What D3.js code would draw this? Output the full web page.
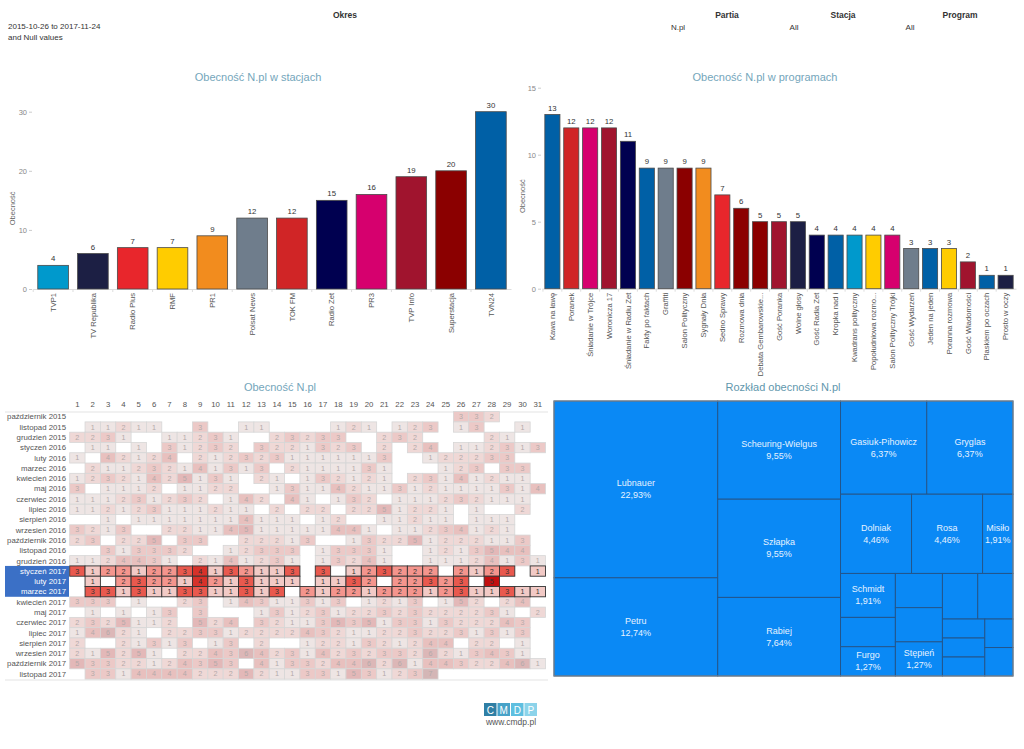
<!DOCTYPE html>
<html><head><meta charset="utf-8">
<script src="https://cdn.jsdelivr.net/npm/d3@7"></script>
<style>body{margin:0;background:#fff}svg{display:block}</style>
</head><body><svg id="c" width="1024" height="749"></svg>
<script>
// ---------- DATA ----------
const stations = ["TVP1","TV Republika","Radio Plus","RMF","PR1","Polsat News","TOK FM","Radio Zet","PR3","TVP Info","Superstacja","TVN24"];
const stationValues = [4,6,7,7,9,12,12,15,16,19,20,30];
const stationColors = ["#0099cc","#1c1f44","#e8262c","#ffcc00","#f28c1e","#6f7d8c","#d02526","#000050","#d6006e","#a0142e","#8b0000","#0060a6"];
const stationTicks = [0,10,20,30];

const programs = ["Kawa na ławę","Poranek","Śniadanie w Trójce","Woronicza 17","Śniadanie w Radiu Zet","Fakty po faktach","Graffiti","Salon Polityczny","Sygnały Dnia","Sedno Sprawy","Rozmowa dnia","Debata Gembarowskie...","Gość Poranka","Wolne głosy","Gość Radia Zet","Kropka nad i","Kwadrans polityczny","Popołudniowa rozmo...","Salon Polityczny Trójki","Gość Wydarzeń","Jeden na jeden","Poranna rozmowa","Gość Wiadomości","Plaskiem po oczach","Prosto w oczy"];
const programValues = [13,12,12,12,11,9,9,9,9,7,6,5,5,5,4,4,4,4,4,3,3,3,2,1,1];
const programColors = ["#0060a6","#d02526","#d6006e","#a0142e","#000050","#0060a6","#6f7d8c","#8b0000","#f28c1e","#e8262c","#8b0000","#8b0000","#a0142e","#1c1f44","#000050","#0060a6","#0099cc","#ffcc00","#d6006e","#6f7d8c","#0060a6","#ffcc00","#a0142e","#0060a6","#1c1f44"];
const programTicks = [0,5,10,15];

const months = ["październik 2015","listopad 2015","grudzień 2015","styczeń 2016","luty 2016","marzec 2016","kwiecień 2016","maj 2016","czerwiec 2016","lipiec 2016","sierpień 2016","wrzesień 2016","październik 2016","listopad 2016","grudzień 2016","styczeń 2017","luty 2017","marzec 2017","kwiecień 2017","maj 2017","czerwiec 2017","lipiec 2017","sierpień 2017","wrzesień 2017","październik 2017","listopad 2017"];
const days = d3.range(1,32);
const selectedMonths = ["styczeń 2017","luty 2017","marzec 2017"];
// 0 = no appearance that day
const heatValues = [
[0,0,0,0,0,0,0,0,0,0,0,0,0,0,0,0,0,0,0,0,0,0,0,0,0,3,3,2,0,0,0],
[0,1,1,2,1,1,0,0,3,0,0,1,1,0,0,0,0,1,2,1,0,1,2,3,0,1,3,0,0,1,0],
[2,2,3,1,0,0,1,1,2,3,1,0,0,2,3,2,3,3,0,0,2,3,2,0,0,0,0,2,1,0,0],
[0,1,1,0,1,0,3,1,2,3,2,0,3,2,2,1,3,2,3,0,2,0,2,4,0,1,1,2,3,1,3],
[1,0,4,2,1,2,4,0,2,1,2,3,2,3,1,1,1,1,1,1,3,0,0,1,2,2,2,3,3,0,0],
[0,2,1,1,2,3,2,1,4,1,3,1,3,0,2,1,1,1,1,3,1,0,0,0,1,2,3,0,3,3,0],
[1,2,3,2,1,4,2,5,1,3,1,0,2,1,0,1,3,2,1,2,1,0,2,3,1,4,1,2,1,1,0],
[3,0,1,1,1,2,0,1,1,2,2,0,0,1,3,1,1,4,2,1,1,3,1,2,1,1,1,1,3,1,4],
[1,1,1,2,3,1,2,3,2,0,1,4,2,0,4,1,0,1,3,2,0,1,1,1,2,3,2,1,1,1,0],
[1,1,2,1,2,3,1,1,1,2,1,1,0,2,0,2,2,0,2,2,5,1,2,2,1,0,1,0,0,2,0],
[0,0,1,0,1,1,1,1,1,1,1,4,1,1,1,0,1,2,0,0,1,1,2,1,1,0,1,1,1,0,0],
[3,2,1,3,0,0,2,2,1,1,4,5,1,1,1,1,1,4,4,1,0,1,1,2,3,4,1,2,1,0,0],
[2,3,0,2,2,5,0,3,3,0,0,2,2,2,1,3,0,0,1,3,2,2,5,1,2,2,2,1,1,3,0],
[0,0,3,1,3,3,3,2,0,0,1,2,3,3,3,0,1,3,3,3,1,0,0,1,2,1,3,5,4,4,0],
[1,1,2,4,4,3,1,0,2,1,4,1,2,3,1,0,1,3,2,4,1,0,0,1,1,1,2,4,1,3,1],
[3,1,2,2,1,2,2,3,4,1,3,2,1,1,3,0,3,0,1,2,3,2,2,2,0,2,1,2,3,0,1],
[0,1,0,2,3,2,2,1,4,2,1,3,1,1,1,0,1,1,3,2,0,2,2,3,2,3,0,5,0,0,0],
[0,3,3,1,3,1,1,3,3,1,1,3,1,3,0,2,1,2,2,1,2,2,2,1,2,3,1,1,3,1,1],
[3,3,3,0,1,0,0,2,3,0,1,4,3,1,1,3,1,3,0,1,2,1,3,0,1,5,2,0,2,4,0],
[0,1,0,1,0,1,3,0,3,0,0,0,1,3,1,2,3,1,2,2,3,2,3,2,2,2,2,3,1,0,2],
[2,3,2,5,1,1,2,0,5,2,4,0,3,2,1,1,3,5,3,5,1,3,3,1,3,2,2,2,4,3,0],
[1,4,6,2,1,0,2,2,3,3,1,2,2,2,2,4,3,2,1,1,2,2,3,2,2,3,1,3,1,3,0],
[2,0,0,2,1,3,1,3,0,1,3,0,2,0,0,1,2,2,1,3,2,1,2,4,4,0,2,2,0,1,0],
[2,1,5,2,5,1,0,2,2,4,3,6,4,2,3,1,4,2,3,2,3,3,2,6,2,1,3,4,3,1,0],
[5,3,3,2,2,1,2,4,3,5,3,0,4,1,3,3,2,4,4,6,2,6,1,4,4,3,2,2,4,6,1],
[0,3,3,1,4,4,4,4,2,2,2,5,2,1,1,3,3,1,5,3,1,2,3,7,0,0,0,0,0,0,0]
];
const heatColors = ["#f2cac6","#f4958d","#e9594e","#d7322a","#c20f0f","#a50b0b","#860707"];

const people = ["Lubnauer","Petru","Scheuring-Wielgus","Szłapka","Rabiej","Gasiuk-Pihowicz","Gryglas","Dolniak","Rosa","Misiło","Schmidt","","Furgo","","","Stępień","","","","","","",""];
const peopleValues = [36,20,15,15,12,10,10,7,7,3,3,2,2,2,2,2,2,2,1,1,1,1,1];
const peopleGroups = ["A","A","B","B","B","C/1","C/1","C/2","C/2","C/2","C/3/a","C/3/a","C/3/a","C/3/b","C/3/b","C/3/b","C/3/c/t","C/3/c/t","C/3/c/b/l","C/3/c/b/l","C/3/c/b/l","C/3/c/b/r","C/3/c/b/r"];

// ---------- DRAW ----------
const FONT = "'Liberation Sans', Arial, sans-serif";
const titleColor = "#74a6bb";
const svg = d3.select("#c").attr("font-family", FONT);

// header filters
const hdr = svg.append("g").attr("fill","#333");
[["Okres",345],["Partia",727],["Stacja",843],["Program",960]].forEach(([t,x])=>{
  hdr.append("text").attr("x",x).attr("y",18).attr("text-anchor","middle").attr("font-weight","bold").attr("font-size",8.5).text(t);
});
hdr.append("text").attr("x",8).attr("y",29).attr("font-size",8).text("2015-10-26 to 2017-11-24");
hdr.append("text").attr("x",8).attr("y",40).attr("font-size",8).text("and Null values");
[["N.pl",678],["All",794],["All",910]].forEach(([t,x])=>{
  hdr.append("text").attr("x",x).attr("y",30).attr("text-anchor","middle").attr("font-size",8).text(t);
});

function barChart(cfg){
  const g = svg.append("g");
  const x = d3.scaleBand().domain(cfg.cats).range(cfg.xr).paddingInner(cfg.pi).paddingOuter(cfg.po);
  const y = d3.scaleLinear().domain(cfg.yd).range(cfg.yr);
  g.append("text").attr("x",cfg.titleX).attr("y",81).attr("text-anchor","middle")
    .attr("font-size",11).attr("fill",titleColor).text(cfg.title);
  const ya = g.append("g").attr("transform",`translate(${cfg.xr[0]-1},0)`)
    .call(d3.axisLeft(y).tickValues(cfg.ticks).tickSize(3).tickPadding(2));
  ya.select(".domain").remove();
  ya.selectAll(".tick line").attr("stroke","#ccc");
  ya.selectAll(".tick text").attr("fill","#888").attr("font-size",7.5).attr("font-family",FONT);
  g.append("text").attr("transform",`translate(${cfg.yTitleX},${(cfg.yr[0]+cfg.yr[1])/2+8}) rotate(-90)`)
    .attr("text-anchor","middle").attr("font-size",7.5).attr("fill","#666").text("Obecność");
  const xa = g.append("g").attr("transform",`translate(0,${cfg.yr[0]})`)
    .call(d3.axisBottom(x).tickSize(0).tickPadding(0));
  xa.select(".domain").attr("stroke","#ddd");
  xa.selectAll(".tick text").attr("font-size",7.6).attr("fill","#555").attr("font-family",FONT)
    .attr("text-anchor","end").attr("transform","translate(0,4) rotate(-90)").attr("dx",0).attr("dy","0.35em").attr("y",0).attr("x",0);
  g.selectAll(".sep").data(cfg.cats).enter().append("line")
    .attr("x1",d=>x(d)-x.step()*x.paddingInner()/2).attr("x2",d=>x(d)-x.step()*x.paddingInner()/2)
    .attr("y1",cfg.yr[0]).attr("y2",cfg.yr[0]+3).attr("stroke","#ddd");
  g.selectAll(".bar").data(cfg.cats).enter().append("rect")
    .attr("x",d=>x(d)).attr("width",x.bandwidth())
    .attr("y",(d,i)=>y(cfg.vals[i])).attr("height",(d,i)=>y(0)-y(cfg.vals[i]))
    .attr("fill",(d,i)=>cfg.colors[i]).attr("stroke","#4a4a4a").attr("stroke-width",0.8);
  g.selectAll(".val").data(cfg.cats).enter().append("text")
    .attr("x",d=>x(d)+x.bandwidth()/2).attr("y",(d,i)=>y(cfg.vals[i])-4)
    .attr("text-anchor","middle").attr("font-size",7.8).attr("fill","#333").text((d,i)=>cfg.vals[i]);
}

barChart({cats:stations, vals:stationValues, colors:stationColors, ticks:stationTicks,
  xr:[33,511], pi:0.23, po:0.12, yd:[0,30], yr:[289,111.7], title:"Obecność N.pl w stacjach", titleX:258, yTitleX:15});
barChart({cats:programs, vals:programValues, colors:programColors, ticks:programTicks,
  xr:[542,1016], pi:0.2, po:0.15, yd:[0,15], yr:[288.7,87.7], title:"Obecność N.pl w programach", titleX:765, yTitleX:525});

// ---------- HEATMAP ----------
const hm = svg.append("g");
hm.append("text").attr("x",280).attr("y",391).attr("text-anchor","middle").attr("font-size",11).attr("fill",titleColor).text("Obecność N.pl");
const hx = d3.scaleBand().domain(days).range([69.7,545.5]);
const hy = d3.scaleBand().domain(months).range([411.6,679.1]);
const hcol = d3.scaleLinear().domain([1,2,3,4,5,6,7]).range(heatColors);
hm.selectAll(".dh").data(days).enter().append("text")
  .attr("x",d=>hx(d)+hx.bandwidth()/2).attr("y",407).attr("text-anchor","middle")
  .attr("font-size",7.8).attr("fill","#555").text(d=>d);
hm.append("line").attr("x1",5).attr("x2",548).attr("y1",412).attr("y2",412).attr("stroke","#e3e3e3");
hm.append("line").attr("x1",5).attr("x2",548).attr("y1",680).attr("y2",680).attr("stroke","#e3e3e3");
const selIdx = selectedMonths.map(m=>months.indexOf(m));
hm.append("rect").attr("x",5).attr("y",hy(selectedMonths[0])).attr("width",64)
  .attr("height",hy.bandwidth()*selectedMonths.length).attr("fill","#3b70c6");
hm.selectAll(".ml").data(months).enter().append("text")
  .attr("x",66).attr("y",d=>hy(d)+hy.bandwidth()/2).attr("dy","0.35em").attr("text-anchor","end")
  .attr("font-size",7.8).attr("fill",d=>selectedMonths.includes(d)?"#fff":"#555").text(d=>d);
const cells = [];
months.forEach((m,r)=>days.forEach((d,c)=>{ const v=heatValues[r][c]; if(v>0) cells.push({m,d,v,sel:selectedMonths.includes(m)}); }));
const drawCells = (data)=>{
  const cg = hm.append("g");
  cg.selectAll("rect").data(data).enter().append("rect")
    .attr("x",d=>hx(d.d)).attr("y",d=>hy(d.m)).attr("width",hx.bandwidth()).attr("height",hy.bandwidth())
    .attr("fill",d=>d.sel?hcol(d.v):d3.interpolateRgb("#ededed",hcol(d.v))(0.24))
    .attr("stroke",d=>d.sel?"#333":"#d6d6d6").attr("stroke-width",d=>d.sel?0.9:0.8);
  cg.selectAll("text").data(data).enter().append("text")
    .attr("x",d=>hx(d.d)+hx.bandwidth()/2).attr("y",d=>hy(d.m)+hy.bandwidth()/2).attr("dy","0.35em")
    .attr("text-anchor","middle").attr("font-size",7.2).attr("fill",d=>d.sel?"#333":"#b3a9a9").text(d=>d.v);
};
drawCells(cells.filter(d=>!d.sel));
drawCells(cells.filter(d=>d.sel));

// ---------- TREEMAP ----------
const tm = svg.append("g");
tm.append("text").attr("x",783).attr("y",391).attr("text-anchor","middle").attr("font-size",11).attr("fill","#5f97ad").text("Rozkład obecności N.pl");
const rootObj = {name:"root", children:[]};
people.forEach((p,i)=>{
  let node = rootObj;
  peopleGroups[i].split("/").forEach(k=>{
    let ch = node.children.find(c=>c.key===k);
    if(!ch){ ch={key:k, children:[]}; node.children.push(ch); }
    node = ch;
  });
  node.children.push({name:p, value:peopleValues[i]});
});
const total = d3.sum(peopleValues);
const root = d3.hierarchy(rootObj).sum(d=>d.value||0);
d3.treemap().tile(d3.treemapSliceDice).size([459,275])(root);
const tg = tm.append("g").attr("transform","translate(554,401)");
const leaves = root.leaves();
tg.selectAll("rect").data(leaves).enter().append("rect")
  .attr("x",d=>d.x0).attr("y",d=>d.y0).attr("width",d=>d.x1-d.x0).attr("height",d=>d.y1-d.y0)
  .attr("fill","#0a89f5").attr("stroke","#23568c").attr("stroke-width",1);
tg.append("rect").attr("x",0).attr("y",0).attr("width",459).attr("height",275).attr("fill","none").attr("stroke","#8a8a8a").attr("stroke-width",1);
const lab = tg.selectAll(".lab").data(leaves.filter(d=>d.data.name)).enter().append("g")
  .attr("transform",d=>`translate(${(d.x0+d.x1)/2},${(d.y0+d.y1)/2})`);
lab.append("text").attr("y",-3).attr("text-anchor","middle").attr("font-size",9).attr("fill","#e6f2ff").text(d=>d.data.name);
lab.append("text").attr("y",9).attr("text-anchor","middle").attr("font-size",9).attr("fill","#e6f2ff")
  .text(d=>(d.value/total*100).toFixed(2).replace(".",",")+"%");

// ---------- FOOTER LOGO ----------
const logo = svg.append("g");
const logoLetters = ["C","M","D","P"];
const logoColors = ["#2f7fa5","#47a2c8","#5ebfe0","#8cd3ea"];
logoLetters.forEach((l,i)=>{
  logo.append("rect").attr("x",484+i*13.5).attr("y",703).attr("width",12.5).attr("height",13).attr("fill",logoColors[i]);
  logo.append("text").attr("x",484+i*13.5+6.25).attr("y",713.5).attr("text-anchor","middle").attr("font-size",10).attr("fill","#fff").text(l);
});
logo.append("text").attr("x",511).attr("y",725).attr("text-anchor","middle").attr("font-size",8.5).attr("fill","#555").text("www.cmdp.pl");
</script></body></html>
